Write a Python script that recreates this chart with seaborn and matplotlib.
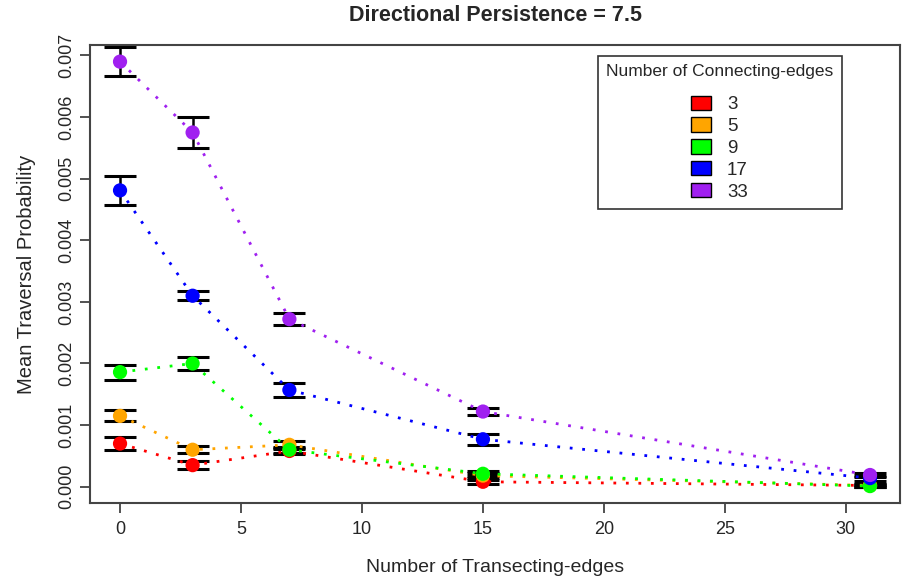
import numpy as np
import pandas as pd
import matplotlib
matplotlib.use('Agg')
import matplotlib.pyplot as plt
from matplotlib.patches import Patch
import seaborn as sns

# transecting edges (x) and connecting-edge groups
transecting = [0, 3, 7, 15, 31]
groups = ['3', '5', '9', '17', '33']
colors = ['#FF0000', '#FFA500', '#00FF00', '#0000FF', '#A020F0']

# mean traversal probability per group
mean_3 = [0.00070, 0.00035, 0.00058, 0.00008, 0.00002]
mean_5 = [0.00115, 0.00060, 0.00068, 0.00018, 0.00002]
mean_9 = [0.00186, 0.00200, 0.00060, 0.00021, 0.00001]
mean_17 = [0.00481, 0.00310, 0.00157, 0.00077, 0.00014]
mean_33 = [0.00690, 0.00575, 0.00272, 0.00122, 0.00019]

# half-width of error bars
err_3 = [0.00010, 0.00007, 0.00005, 0.00003, 0.00002]
err_5 = [0.00009, 0.00006, 0.00006, 0.00004, 0.00002]
err_9 = [0.00012, 0.00011, 0.00005, 0.00004, 0.00002]
err_17 = [0.00024, 0.00007, 0.00011, 0.00009, 0.00004]
err_33 = [0.00023, 0.00025, 0.00010, 0.00006, 0.00004]

means = [mean_3, mean_5, mean_9, mean_17, mean_33]
errs = [err_3, err_5, err_9, err_17, err_33]

rows = []
for g, m, e in zip(groups, means, errs):
    for x, v, s in zip(transecting, m, e):
        rows.append({'edges': x, 'prob': v, 'err': s, 'group': g})
df = pd.DataFrame(rows)

sns.set_style('ticks')
plt.rcParams['font.family'] = ['Liberation Sans', 'DejaVu Sans']

fig = plt.figure(figsize=(9.03, 5.77), dpi=100)
ax = fig.add_axes([0.0997, 0.1282, 0.897, 0.7938])

palette = dict(zip(groups, colors))

for g in groups:
    sub = df[df['group'] == g]
    ax.errorbar(sub['edges'], sub['prob'], yerr=sub['err'], fmt='none',
                ecolor='black', elinewidth=1.8, capsize=11.5, capthick=2.2, zorder=2)

sns.lineplot(data=df, x='edges', y='prob', hue='group', palette=palette,
             linestyle=(0, (1, 3.5)), linewidth=2.0, legend=False, ax=ax, zorder=3,
             dash_capstyle='butt')
sns.scatterplot(data=df, x='edges', y='prob', hue='group', palette=palette,
                s=105, edgecolor='none', legend=False, ax=ax, zorder=4)

ax.set_xlim(-1.24, 32.24)
ax.set_ylim(-0.000265, 0.00717)
ax.set_xticks([0, 5, 10, 15, 20, 25, 30])
ax.set_yticks([0.000, 0.001, 0.002, 0.003, 0.004, 0.005, 0.006, 0.007])
ax.set_yticklabels(['0.000', '0.001', '0.002', '0.003', '0.004', '0.005', '0.006', '0.007'],
                   rotation=90, va='center')
ax.tick_params(axis='both', labelsize=13, length=7, width=1.2, color='#333333')
ax.tick_params(axis='y', pad=4)
ax.tick_params(axis='x', pad=6)
for sp in ax.spines.values():
    sp.set_visible(True)
    sp.set_color('#444444')
    sp.set_linewidth(1.5)

ax.set_xlabel('Number of Transecting-edges', fontsize=14, labelpad=15)
ax.set_ylabel('Mean Traversal Probability', fontsize=14.5, labelpad=16)
ax.set_title('Directional Persistence = 7.5', fontsize=15.5, fontweight='bold', pad=17)

handles = [Patch(facecolor=c, edgecolor='black', linewidth=1.0) for c in colors]
leg = ax.legend(handles, groups, title='Number of Connecting-edges', loc='upper right',
                bbox_to_anchor=(0.928, 0.977), borderaxespad=0, fontsize=13.5,
                title_fontsize=12.5, frameon=True, fancybox=False, edgecolor='black',
                handlelength=1.05, handleheight=0.8, handletextpad=0.85,
                labelspacing=0.22, borderpad=0.45)
leg.get_frame().set_linewidth(1.2)
leg._legend_box.align = 'center'
leg._legend_box.sep = 12
for t in leg.get_texts():
    t.set_ha('left')

fig.savefig('out.png', dpi=100)
plt.close(fig)
